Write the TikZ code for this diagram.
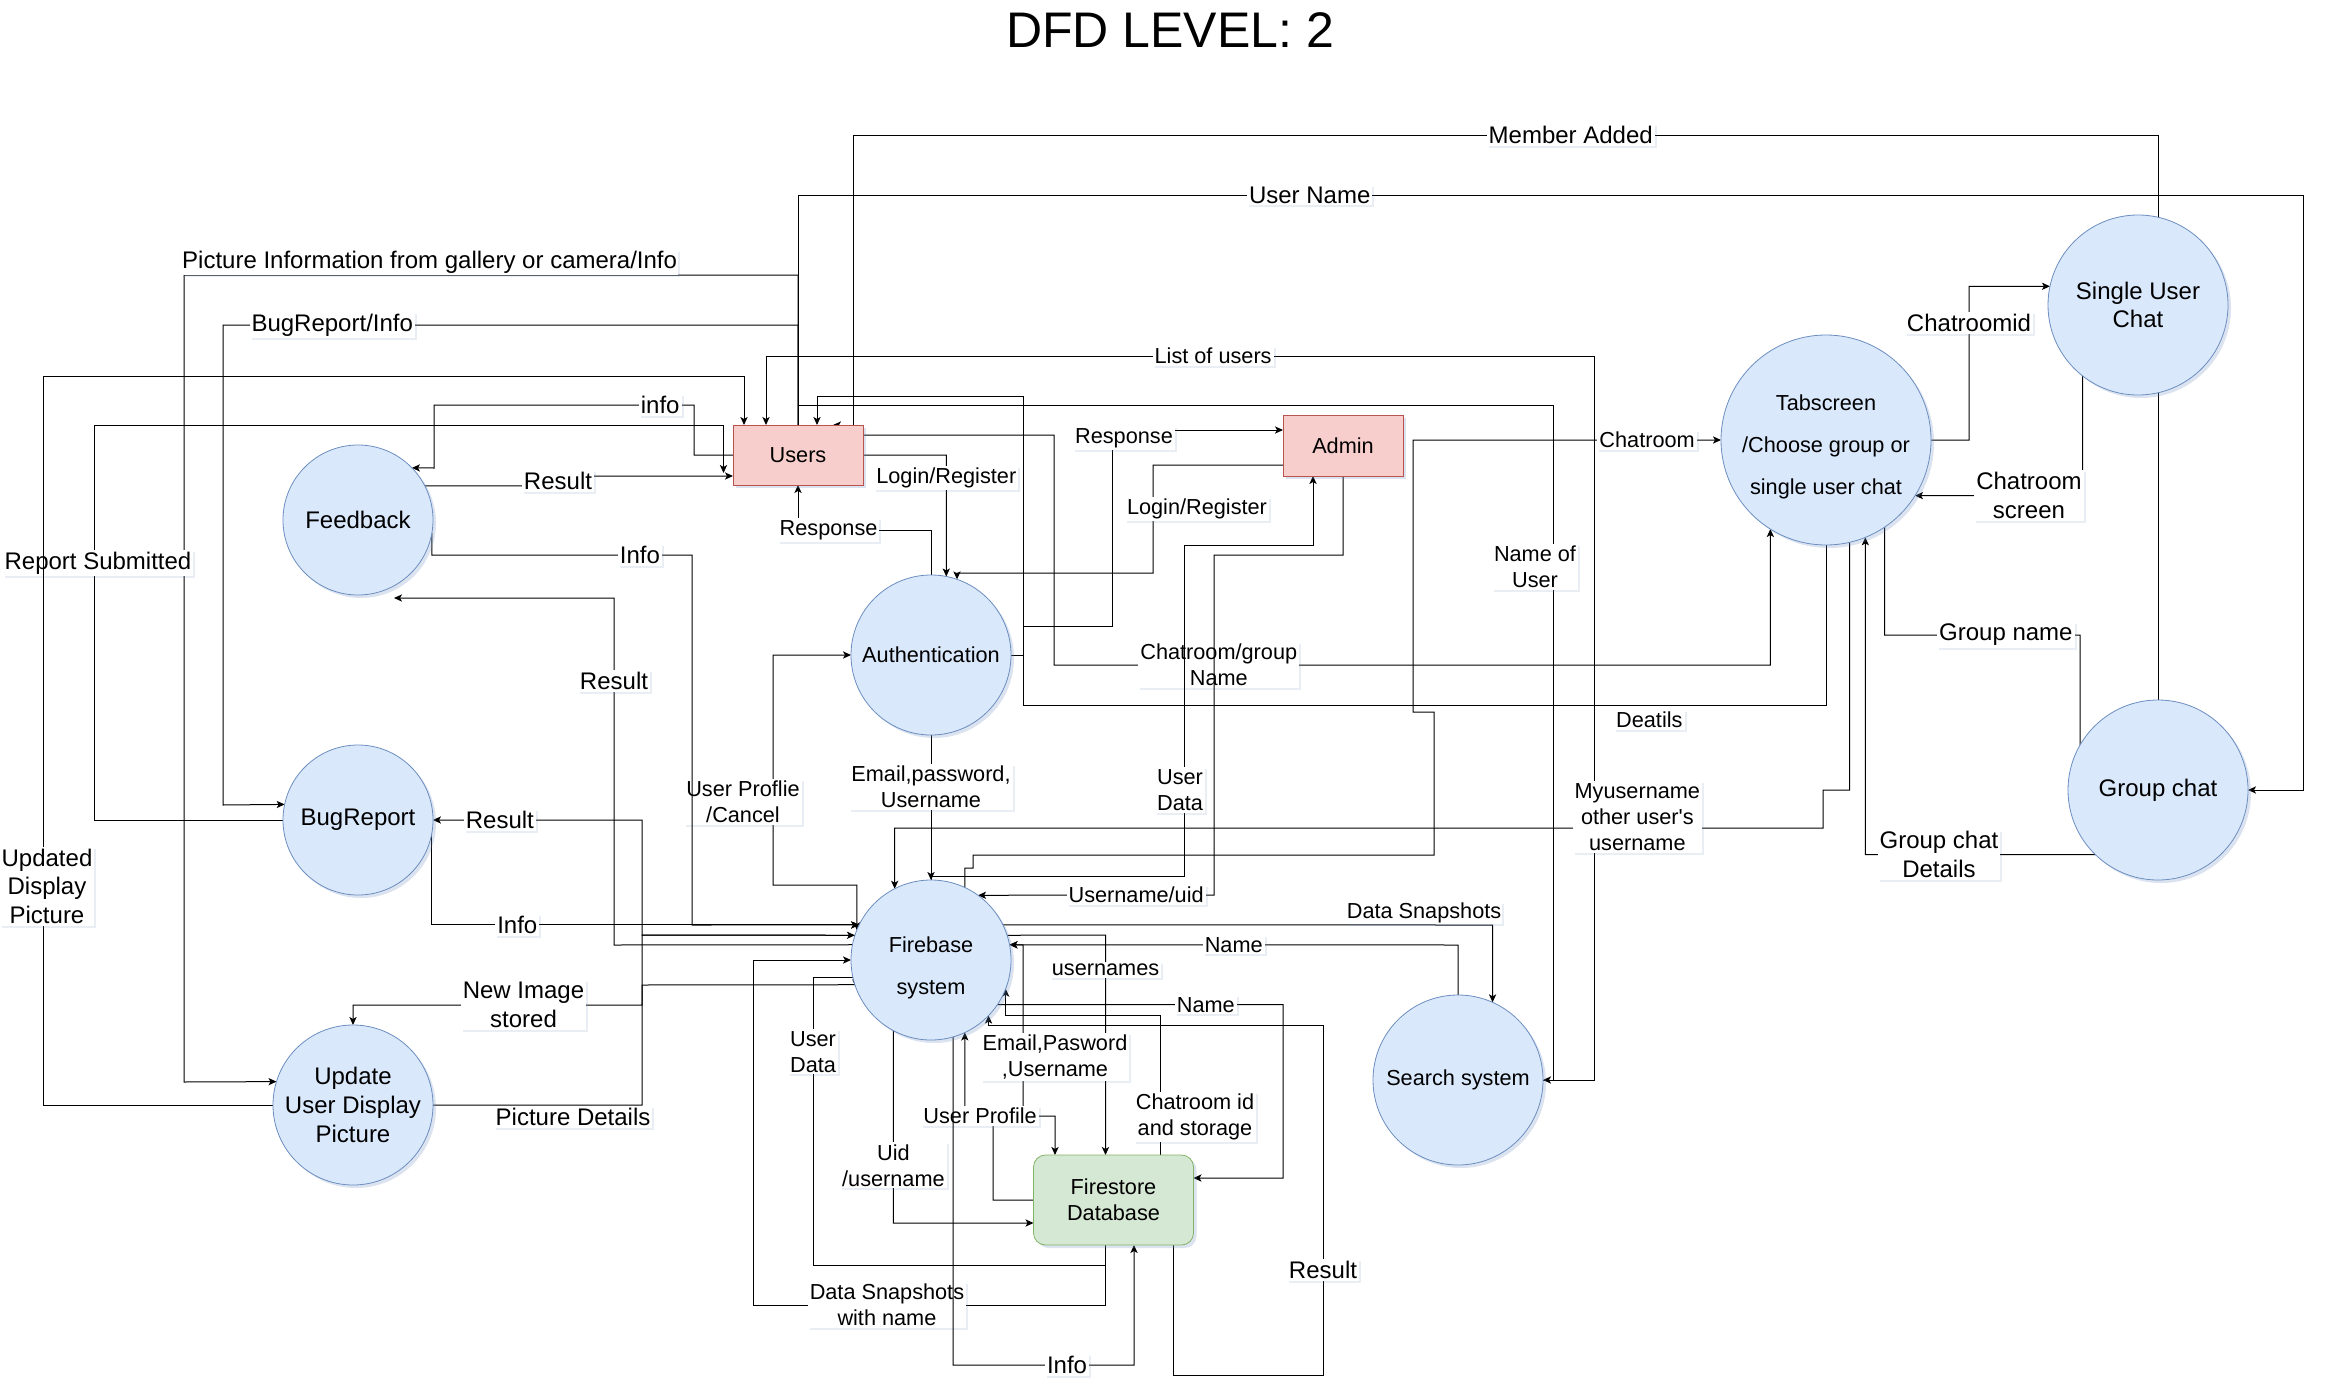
\documentclass[tikz,border=0pt]{standalone}
\usepackage{fontspec}
\setmainfont{Liberation Sans}
\usetikzlibrary{positioning,calc,arrows.meta,backgrounds,shadows}

\definecolor{procfill}{HTML}{DAE8FC}
\definecolor{procline}{HTML}{6C8EBF}
\definecolor{entfill}{HTML}{F8CECC}
\definecolor{entline}{HTML}{B85450}
\definecolor{storefill}{HTML}{D5E8D4}
\definecolor{storeline}{HTML}{82B366}

\newcommand{\dfds}{\fontsize{10.85}{13}\selectfont}
\newcommand{\dfdb}{\fontsize{12}{14.4}\selectfont}

\begin{document}
\begin{tikzpicture}[x=0.5pt, y=-0.5pt,
    >={Stealth[length=4pt,width=3.6pt,inset=1pt]},
    shade/.style={drop shadow={shadow xshift=1.5pt,shadow yshift=-1.5pt,opacity=0.25,fill=procline}},
    proc/.style={circle, draw=procline, fill=procfill, inner sep=0pt, outer sep=0pt, align=center, font=\dfds, shade},
    entity/.style={rectangle, draw=entline, fill=entfill, outer sep=0pt, font=\dfds, shade},
    store/.style={rectangle, rounded corners=6pt, draw=storeline, fill=storefill, outer sep=0pt, align=center, font=\dfds, shade},
    lbl/.style={fill=white, inner sep=1pt, font=\dfds, align=center,
      drop shadow={shadow xshift=1pt,shadow yshift=-1pt,opacity=0.15,fill=procline}},
    lblb/.style={lbl, font=\dfdb},
    flow/.style={draw, line width=0.5pt, ->},
    flowboth/.style={draw, line width=0.5pt, <->},
    plainflow/.style={draw, line width=0.5pt}]
\useasboundingbox (0,0) rectangle (2326,1397);

\node[font=\fontsize{25}{29}\selectfont] (title) at (1170,30) {DFD LEVEL: 2};

\node[entity, minimum width=65pt, minimum height=30pt] (us) at (798,455) {Users};
\node[entity, minimum width=60pt, minimum height=30.5pt] (ad) at (1343,445.5) {Admin};
\node[proc, minimum size=75pt, font=\dfdb] (fb) at (358,520) {Feedback};
\node[proc, minimum size=75pt, font=\dfdb] (br) at (358,820) {BugReport};
\node[proc, minimum size=80pt, font=\dfdb] (up) at (353,1105) {Update\\User Display\\Picture};
\node[proc, minimum size=80pt] (au) at (931,655) {Authentication};
\node[proc, minimum size=80pt] (fs) at (931,960) {\rule{0pt}{16pt}Firebase\\[8pt]system};
\node[store, minimum width=80pt, minimum height=45pt] (db) at (1113.5,1200) {Firestore\\Database};
\node[proc, minimum size=85pt] (ss) at (1458,1080) {Search system};
\node[proc, minimum size=105pt] (ts) at (1826,440) {\rule{0pt}{15pt}Tabscreen\\[8pt]/Choose group or\\[8pt]single user chat};
\node[proc, minimum size=90pt, font=\dfdb] (su) at (2138,305) {Single User\\Chat};
\node[proc, minimum size=90pt, font=\dfdb] (gc) at (2158,790) {Group chat};

\begin{scope}[on background layer]
\draw[flow] (gc.north) -- (2158,135) -- node[lblb,pos=0.45]{Member Added} (853,135)
  -- ($(us.north)+(55,0)$) -- ($(us.north)+(35,0)$);
\draw[flow] (us.north) -- (798,195) -- node[lblb,pos=0.34]{User Name} (2303,195) -- (2303,790) -- (gc.east);
\draw[flow] (us.north) -- (798,275) -- node[lblb,pos=0.6,above,inner sep=0.5pt]{Picture Information from gallery or camera/Info} (184,275)
  -- (184,1082) -- (up.163);
\draw[flow] (us.north) -- (798,325) -- node[lblb,pos=0.81]{BugReport/Info} (223,325) -- (223,805) -- (br.168);
\draw[flow] (ss.east) -- (1594,1080) -- (1594,356) -- node[lbl,pos=0.46]{List of users} (766,356)
  -- ($(us.north)+(-32,0)$);
\draw[flow] (us.north) -- (798,405) -- (1553,405) -- node[lbl,pos=0.24,xshift=-9pt]{Name of\\User} (1553,1080) -- (ss.east);
\draw[flow] (us.west) -- (694,455) -- (694,405) -- node[lblb,pos=0.13]{info} (434,405) -- (434,468) -- (fb.44);
\draw[flow] (fb.27) -- (558,486) -- node[lblb]{Result} (558,476) -- ($(us.west)+(0,21)$);
\draw[flow] (br.west) -- (94,820) -- node[lblb,pos=0.65,xshift=2pt]{Report Submitted} (94,425) -- (723.5,425)
  -- ($(us.west)+(-9.5,18)$);
\draw[flow] (up.west) -- (43,1105) -- node[lblb,pos=0.3,xshift=2pt]{Updated\\Display\\Picture} (43,376) -- (744,376)
  -- ($(us.north west)+(11,0)$);

\draw[flow] (us.east) -- (946.3,455) -- node[lbl,pos=0.19]{Login/Register} (au.79);
\draw[flow] (au.north) -- (931,530) -- node[lbl,pos=0.77]{Response} (798,530) -- (us.south);
\draw[flow] (au.east) -- (1023,655) -- (1023,626) -- (1112,626) -- node[lbl,pos=0.96,xshift=6pt]{Response} (1112,430)
  -- ($(ad.west)+(0,-15.5)$);
\draw[flow] (ts.south) -- (1826,705) -- node[lbl,pos=0.22,yshift=-7.5pt]{Deatils} (1023,705) -- (1023,396)
  -- (817,396) -- ($(us.north)+(19,0)$);
\draw[flow] ($(us.east)+(0,-20)$) -- (1054,435) -- (1054,665) -- node[lbl,pos=0.23]{Chatroom/group\\Name} (1770.4,665)
  -- (ts.238);
\draw[flow] ($(ad.west)+(0,19.5)$) -- (1153,465) -- node[lbl,pos=0.41,xshift=22pt]{Login/Register} (1153,573)
  -- (957,573) -- (au.71);
\draw[flow] (fs.north) |- (1184,876) -- node[lbl,pos=0.26,xshift=-2pt]{User\\Data} (1184,545) -- (1313,545)
  -- ($(ad.south)+(-30,0)$);
\draw[flow] (ad.south) -- (1343,555) -- (1214,555) -- (1214,895) -- node[lbl,pos=0.33]{Username/uid} (fs.54);
\draw[flow] (au.south) -- node[lbl,pos=0.36]{Email,password,\\Username} (fs.north);
\draw[flowboth] (au.west) -- (773,655) -- node[lbl,pos=0.64,xshift=-15pt]{User Proflie\\/Cancel} (773,885)
  -- (856.8,885) -- (fs.158);

\draw[flow] (fb.350) |- node[lblb,pos=0.9]{Info} (692,555) -- (692,925) -- (fs.154);
\draw[flow] (br.350) |- node[lblb,pos=0.6]{Info} (fs.154);
\draw[flow] (fs.169) -- (614,945) -- node[lblb,pos=0.76]{Result} (614,598) -- ($(fb.south)+(36,3)$);
\draw[flow] (fs.162) -- (642,935) -- (642,820) -- node[lblb,pos=0.68]{Result} (br.east);
\draw[flow] (up.east) -- node[lblb,pos=0.67,yshift=-6pt]{Picture Details} (642,1105) -- (642,935) -- (fs.162);
\draw[flow] (fs.198) -- (642,985) -- (642,1005) -- node[lblb,pos=0.41]{New Image\\stored} (353,1005) -- (up.north);

\draw[flow] ($(db.south)+(-8,0)$) -- (1105.5,1305) -- node[lbl,pos=0.62]{Data Snapshots\\with name} (753,1305)
  -- (753,960) -- (fs.west);
\draw[flow] ($(db.south)+(-8,0)$) -- (1105.5,1265) -- (813,1265) -- node[lbl,pos=0.74]{User\\Data} (813,977) -| (fs.200);
\draw[flow] (fs.18) -- (1105.5,935) -- node[lbl,pos=0.16]{usernames} ($(db.north)+(-8,0)$);
\draw[flow] (ss.north) -- (1458,945) -- node[lbl,pos=0.5]{Name} (fs.11);
\draw[flow] (db.west) -- (993,1200) -- (993,1112) -- (1023,1112) -- node[lbl,pos=0.33,xshift=16pt]{Email,Pasword\\,Username} (1023,945)
  -- (fs.11);
\draw[flowboth] (fs.295) -- (964.8,1116) -- node[lbl,pos=0.17]{User Profile} (1055,1116) -- ($(db.north)+(-58.5,0)$);
\draw[flow] (fs.286) -- (953,1365) -- node[lblb,pos=0.63]{Info} (1134,1365) -- ($(db.south)+(20.5,0)$);
\draw[flow] (fs.242) -- node[lbl,pos=0.7]{Uid\\/username} (893.4,1223) -- ($(db.west)+(0,23)$);
\draw[flow] (fs.326) -- node[lbl,pos=0.73]{Name} (1283,1004.7) -- (1283,1178) -- ($(db.east)+(0,-22)$);
\draw[flow] ($(db.north)+(46.5,0)$) -- node[lbl,pos=0.27,xshift=17.5pt]{Chatroom id\\and storage} (1160,1015) -| (fs.339);
\draw[flow] ($(db.south)+(60,0)$) -- (1173.5,1375) -- (1323,1375) -- node[lblb,pos=0.3]{Result} (1323,1025.7) -| (fs.316);
\draw[flow] (fs.26) -- node[lbl,pos=0.86,above,inner sep=0.5pt]{Data Snapshots} (1492.6,925) -- (ss.66);

\draw[flow] (ts.283) -- (1849.6,790) -- (1823,790) -- (1823,828)
  -- node[lbl,pos=0.2,yshift=5.5pt]{Myusername\\other user\textquotesingle s\\username} (894.7,828) -- (fs.117);
\draw[flow] (fs.65) -- (964.8,868) -- (973,868) -- (973,855) -- (1434,855) -- (1434,712) -- (1413,712)
  -- (1413,440) -- node[lbl,pos=0.76]{Chatroom} (ts.west);
\draw[flow] (ts.east) -- (1969,440) -- node[lblb,pos=0.76]{Chatroomid} (1969,286.3) -- (su.168);
\draw[flow] (su.232) -- (2082.6,495.6) -- node[lblb,pos=0.32]{Chatroom\\screen} (ts.328);
\draw[plainflow] (ts.304) -- (1884.7,635) -- node[lblb,pos=0.62]{Group name} (2080.1,635) -- (gc.150);
\draw[flow] (gc.226) -- node[lblb,pos=0.68]{Group chat\\Details} (1865.3,854.7) -- (ts.292);
\end{scope}
\end{tikzpicture}
\end{document}
